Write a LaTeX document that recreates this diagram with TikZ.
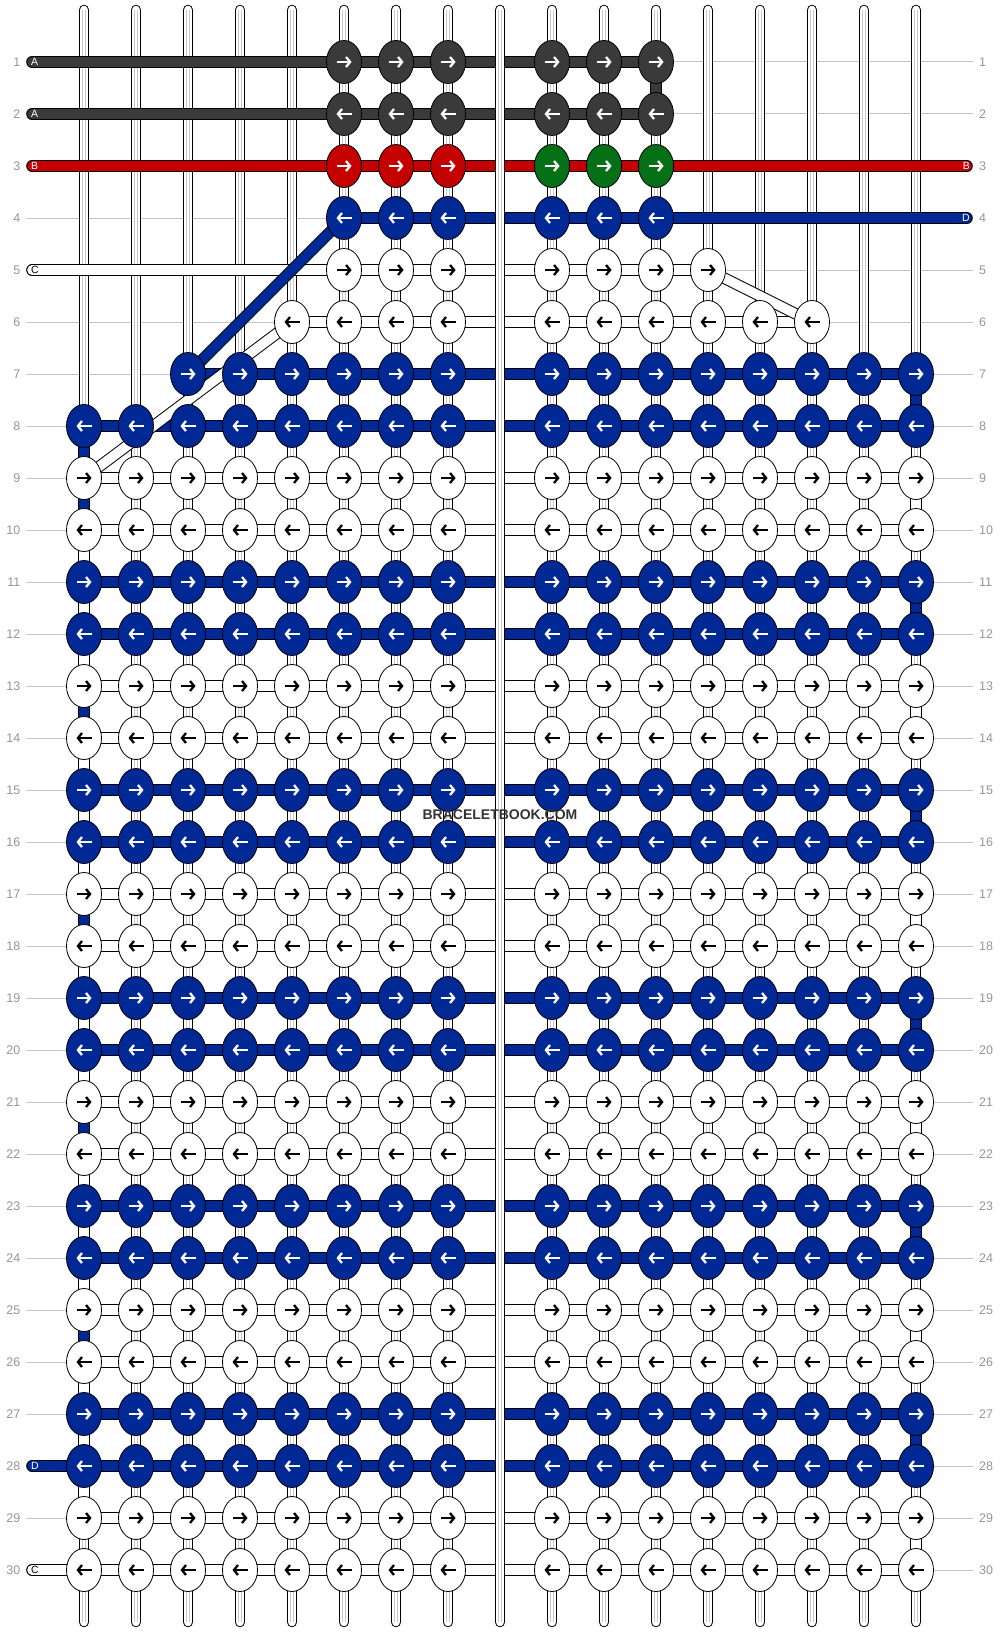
\documentclass[tikz,border=0pt]{standalone}
\usepackage{fontspec}
\setmainfont{Liberation Sans}
\usetikzlibrary{shapes.geometric,arrows.meta}
\definecolor{knotdark}{RGB}{58,58,58}
\definecolor{knotred}{RGB}{196,0,0}
\definecolor{knotgreen}{RGB}{6,112,22}
\definecolor{knotblue}{RGB}{0,41,150}
\definecolor{guidegray}{RGB}{196,196,196}
\definecolor{numgray}{RGB}{150,150,150}
\definecolor{warpgray}{RGB}{200,200,200}
\definecolor{markgray}{RGB}{51,51,51}

\tikzset{
    warp/.style={draw=white, line width=8.6pt, line cap=round,
        preaction={draw=black, line width=10.6pt, line cap=round}},
    warpcore/.style={draw=warpgray, line width=1.1pt, double=white, double distance=1.8pt},
    thread/.style={draw=#1, line width=9.6pt, line cap=round,
        preaction={draw=black, line width=11.6pt, line cap=round}},
    knot/.style={ellipse, draw=black, line width=0.8pt, fill=#1, minimum width=35pt, minimum height=43pt, inner sep=0pt},
    knotarrow/.style={draw=#1, line width=2.3pt, -{Straight Barb[length=4pt,width=10pt]}},
    guide/.style={draw=guidegray, line width=1pt},
    rownum/.style={text=numgray, font=\fontsize{12.5}{13}\selectfont, inner sep=0pt},
    endtag/.style={font=\fontsize{10.5}{11}\selectfont, inner sep=0pt},
}

\newcommand{\knotat}[4]{%
    \node[knot=#3] (k#2-#1) at (#1,#2) {};
    \ifodd#2\relax
        \draw[knotarrow=#4] ([xshift=-7.5pt]k#2-#1.center) -- ([xshift=7.5pt]k#2-#1.center);
    \else
        \draw[knotarrow=#4] ([xshift=7.5pt]k#2-#1.center) -- ([xshift=-7.5pt]k#2-#1.center);
    \fi
}

\begin{document}
\begin{tikzpicture}[x=52pt, y=-52pt]
    \useasboundingbox (-32pt,10pt) rectangle (968pt,-1622pt);
    \fill[white] (-32pt,10pt) rectangle (968pt,-1622pt);

    % Knot grid points and string ends
    \foreach \r in {1,...,30} {
        \foreach \c in {1,...,17}
            \coordinate (p\r-\c) at (\c,\r);
        \coordinate (le\r) at (0,\r);
        \coordinate (re\r) at (17.98,\r);
    }

    % Row guides and numbers
    \foreach \r in {1,...,30} {
        \draw[guide] ([xshift=-6pt]le\r) -- ([xshift=57pt]p\r-17);
        \node[rownum, anchor=east] (nl\r) at ([xshift=-11.5pt]le\r) {\r};
        \node[rownum, anchor=west] (nr\r) at ([xshift=63pt]p\r-17) {\r};
    }

    % Warp strings
    \foreach \c in {1,2,3,4,5,6,7,8,10,11,12,13,14,15,16,17} {
        \draw[warp] (\c,0) -- (\c,31);
        \draw[warpcore] (\c,0) -- (\c,31);
    }

    % Working strings: rows
    \draw[thread=knotdark] (le1) -- (p1-12);
    \draw[thread=knotdark] (le2) -- (p2-12);
    \draw[thread=knotred] (le3) -- (re3);
    \draw[thread=knotblue] (p4-6) -- (re4);
    \draw[thread=white] (le5) -- (p5-13);
    \draw[thread=white] (p6-5) -- (p6-15);
    \draw[thread=knotblue] (p7-3) -- (p7-17);
    \foreach \r in {8,11,12,15,16,19,20,23,24,27}
        \draw[thread=knotblue] (p\r-1) -- (p\r-17);
    \draw[thread=knotblue] (le28) -- (p28-17);
    \foreach \r in {9,10,13,14,17,18,21,22,25,26,29}
        \draw[thread=white] (p\r-1) -- (p\r-17);
    \draw[thread=white] (le30) -- (p30-17);

    % Working strings: turns
    \draw[thread=knotdark] (p1-12) -- (p2-12);
    \draw[thread=knotblue] (p4-6) -- (p7-3);
    \foreach \a/\b in {7/8,11/12,15/16,19/20,23/24,27/28}
        \draw[thread=knotblue] (p\a-17) -- (p\b-17);
    \foreach \a/\b in {8/11,12/15,16/19,20/23,24/27}
        \draw[thread=knotblue] (p\a-1) -- (p\b-1);
    \draw[thread=white] (p5-13) -- (p6-15);
    \draw[thread=white] (p6-5) -- (p9-1);
    \foreach \a/\b in {9/10,13/14,17/18,21/22,25/26,29/30}
        \draw[thread=white] (p\a-17) -- (p\b-17);
    \foreach \a/\b in {10/13,14/17,18/21,22/25,26/29}
        \draw[thread=white] (p\a-1) -- (p\b-1);

    % Middle warp lies on top
    \draw[warp] (9,0) -- (9,31);
    \draw[warpcore] (9,0) -- (9,31);

    % Knots
    \foreach \c in {6,7,8,10,11,12} {
        \knotat{\c}{1}{knotdark}{white}
        \knotat{\c}{2}{knotdark}{white}
        \knotat{\c}{4}{knotblue}{white}
    }
    \foreach \c in {6,7,8} {\knotat{\c}{3}{knotred}{white}}
    \foreach \c in {10,11,12} {\knotat{\c}{3}{knotgreen}{white}}
    \foreach \c in {6,7,8,10,11,12,13} {\knotat{\c}{5}{white}{black}}
    \foreach \c in {5,6,7,8,10,11,12,13,14,15} {\knotat{\c}{6}{white}{black}}
    \foreach \c in {3,4,5,6,7,8,10,11,12,13,14,15,16,17} {\knotat{\c}{7}{knotblue}{white}}
    \foreach \r in {8,11,12,15,16,19,20,23,24,27,28} {
        \foreach \c in {1,2,3,4,5,6,7,8,10,11,12,13,14,15,16,17} {\knotat{\c}{\r}{knotblue}{white}}
    }
    \foreach \r in {9,10,13,14,17,18,21,22,25,26,29,30} {
        \foreach \c in {1,2,3,4,5,6,7,8,10,11,12,13,14,15,16,17} {\knotat{\c}{\r}{white}{black}}
    }

    % String end tags
    \node[endtag, text=white, anchor=west] (tagA1) at ([xshift=-1pt]le1) {A};
    \node[endtag, text=white, anchor=west] (tagA2) at ([xshift=-1pt]le2) {A};
    \node[endtag, text=white, anchor=west] (tagB1) at ([xshift=-1pt]le3) {B};
    \node[endtag, text=black, anchor=west] (tagC1) at ([xshift=-1pt]le5) {C};
    \node[endtag, text=white, anchor=west] (tagD2) at ([xshift=-1pt]le28) {D};
    \node[endtag, text=black, anchor=west] (tagC2) at ([xshift=-1pt]le30) {C};
    \node[endtag, text=white, anchor=east] (tagB2) at ([xshift=3pt]re3) {B};
    \node[endtag, text=white, anchor=east] (tagD1) at ([xshift=3pt]re4) {D};

    % Watermark
    \node[font=\bfseries\fontsize{14}{16}\selectfont, text=markgray] (mark) at (9,15.48) {BRACELETBOOK.COM};
\end{tikzpicture}
\end{document}
